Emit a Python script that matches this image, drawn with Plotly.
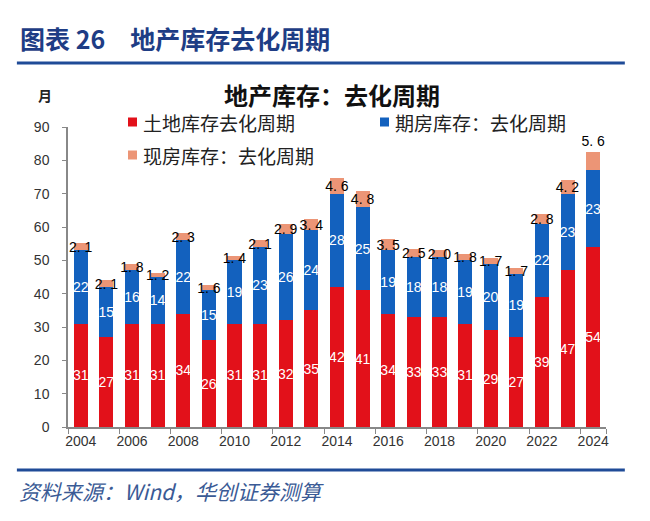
import plotly.graph_objects as go

years = [str(y) for y in range(2004, 2025)]
land = [31, 27, 31, 31, 34, 26, 31, 31, 32, 35, 42, 41, 34, 33, 33, 31, 29, 27, 39, 47, 54]
presale = [22, 15, 16, 14, 22, 15, 19, 23, 26, 24, 28, 25, 19, 18, 18, 19, 20, 19, 22, 23, 23]
existing = [2.1, 2.1, 1.8, 1.2, 2.3, 1.6, 1.4, 2.1, 2.9, 3.4, 4.6, 4.8, 3.5, 2.5, 2.0, 1.8, 1.7, 1.7, 2.8, 4.2, 5.6]
tick_years = [str(y) for y in range(2004, 2025, 2)]
y_ticks = list(range(0, 91, 10))

names = ["土地库存去化周期", "期房库存：去化周期", "现房库存：去化周期"]
colors = ["#E2111A", "#1361BE", "#EC9576"]

num_font = "Liberation Sans, Arial, sans-serif"
cjk = "Noto Sans CJK SC, sans-serif"

fig = go.Figure()
fig.add_bar(x=years, y=land, name=names[0], marker=dict(color=colors[0], line=dict(width=0)),
            text=[str(v) for v in land], textposition="inside", insidetextanchor="middle",
            textangle=0, constraintext="none",
            textfont=dict(color="white", size=14, family=num_font))
fig.add_bar(x=years, y=presale, name=names[1], marker=dict(color=colors[1], line=dict(width=0)),
            text=[str(v) for v in presale], textposition="inside", insidetextanchor="middle",
            textangle=0, constraintext="none",
            textfont=dict(color="white", size=14, family=num_font))
fig.add_bar(x=years, y=existing, name=names[2], marker=dict(color=colors[2], line=dict(width=0)),
            text=[f"{v:.1f}".replace(".", ". ") for v in existing],
            textposition=["inside"] * (len(years) - 1) + ["outside"],
            insidetextanchor="middle", textangle=0, constraintext="none", cliponaxis=False,
            textfont=dict(color="black", size=14, family=num_font))

fig.update_layout(
    width=650, height=521,
    barmode="stack", bargap=0.45,
    showlegend=False,
    plot_bgcolor="white", paper_bgcolor="white",
    margin=dict(l=68, r=44, t=127, b=94),
    font=dict(family=num_font, color="#333333"),
)
fig.update_xaxes(type="category", tickvals=tick_years, ticktext=tick_years, tickangle=0,
                 tickson="boundaries", ticks="outside", ticklen=5, tickcolor="#888888",
                 showline=True, linecolor="#888888", linewidth=1.5, showgrid=False,
                 tickfont=dict(size=14, color="#333333", family=num_font))
fig.update_yaxes(range=[0, 90], tickvals=y_ticks, ticks="outside", ticklen=4, tickcolor="#888888",
                 showline=True, linecolor="#888888", linewidth=1.5, showgrid=False, zeroline=False,
                 ticklabelstandoff=10,
                 tickfont=dict(size=14, color="#333333", family=num_font))

# header and rules
fig.add_annotation(xref="paper", yref="paper", x=-0.093, y=1.297, xanchor="left", yanchor="middle",
                   text="<b>图表 26　地产库存去化周期</b>", showarrow=False,
                   font=dict(family=cjk, size=25, color="#1E3D85"))
fig.add_shape(type="line", xref="paper", yref="paper", x0=-0.095, x1=1.035, y0=1.213, y1=1.213,
              line=dict(color="#1F4B97", width=3))
fig.add_shape(type="line", xref="paper", yref="paper", x0=-0.095, x1=1.035, y0=-0.143, y1=-0.143,
              line=dict(color="#1F4B97", width=3))
fig.add_annotation(xref="paper", yref="paper", x=-0.095, y=-0.213, xanchor="left", yanchor="middle",
                   text="<i>资料来源：Wind，华创证券测算</i>", showarrow=False,
                   font=dict(family=cjk, size=21, color="#3A5A95"))

# chart title and unit
fig.add_annotation(xref="paper", yref="paper", x=0.49, y=1.107, xanchor="center", yanchor="middle",
                   text="<b>地产库存：去化周期</b>", showarrow=False,
                   font=dict(family=cjk, size=24, color="#111111"))
fig.add_annotation(xref="paper", yref="paper", x=-0.043, y=1.107, xanchor="center", yanchor="middle",
                   text="<b>月</b>", showarrow=False,
                   font=dict(family=cjk, size=14, color="#222222"))

# legend (manual)
leg = [(128, 122, 0), (380, 122, 1), (128, 155, 2)]
for px, py, i in leg:
    x0 = (px - 68) / 538
    x1 = (px + 9 - 68) / 538
    yc = (427 - py) / 300
    fig.add_shape(type="rect", xref="paper", yref="paper", x0=x0, x1=x1,
                  y0=yc - 4.5 / 300, y1=yc + 4.5 / 300, line=dict(width=0), fillcolor=colors[i])
    fig.add_annotation(xref="paper", yref="paper", x=(px + 13 - 68) / 538, y=yc,
                       xanchor="left", yanchor="middle", text=names[i], showarrow=False,
                       font=dict(family=cjk, size=19, color="#222222"))

fig.write_html("out.html")
